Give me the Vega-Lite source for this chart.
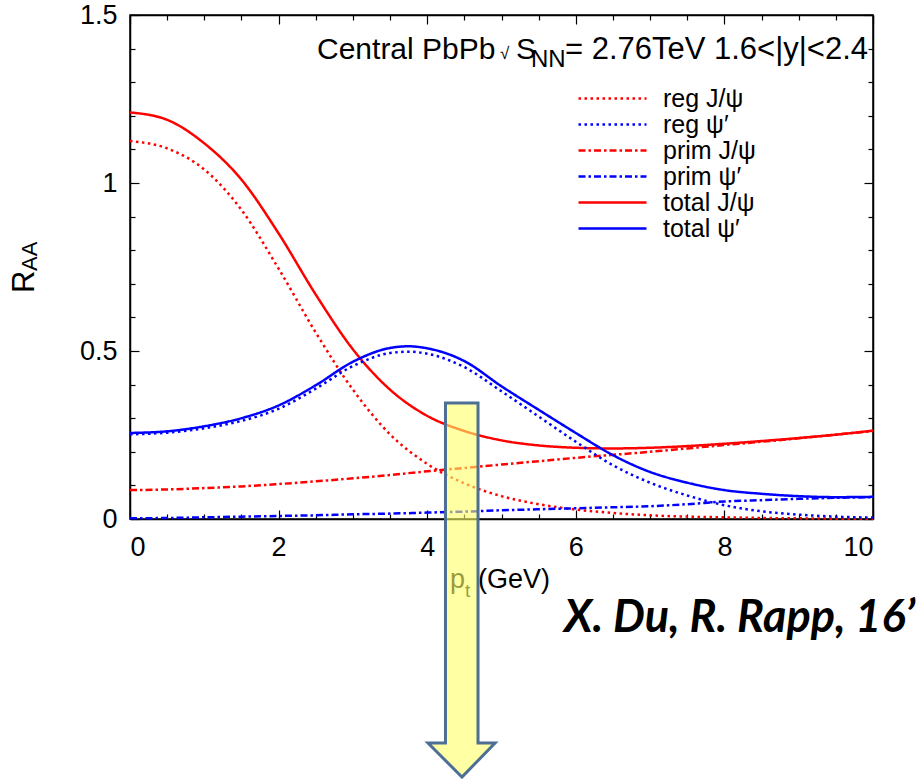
{
  "$schema": "https://vega.github.io/schema/vega-lite/v6.json",
  "width": 743,
  "height": 504,
  "autosize": {"type": "none"},
  "padding": {"left": 130, "top": 15, "right": 48, "bottom": 260},
  "background": "white",
  "config": {
    "view": {"stroke": "black", "strokeWidth": 1.5},
    "font": "Liberation Sans",
    "axis": {"grid": false, "domainColor": "black", "domainWidth": 1.5, "tickColor": "black", "tickWidth": 1.2, "labelColor": "black", "labelFont": "Liberation Sans", "labelFontSize": 27, "title": null}
  },
  "datasets": {
    "curves": [
      {"pt": 0, "r": 1.21, "series": "total J/ψ"}, {"pt": 0.5, "r": 1.188, "series": "total J/ψ"}, {"pt": 1, "r": 1.118, "series": "total J/ψ"}, {"pt": 1.5, "r": 1.01, "series": "total J/ψ"}, {"pt": 2, "r": 0.85, "series": "total J/ψ"}, {"pt": 2.5, "r": 0.668, "series": "total J/ψ"}, {"pt": 3, "r": 0.505, "series": "total J/ψ"}, {"pt": 3.5, "r": 0.385, "series": "total J/ψ"}, {"pt": 4, "r": 0.307, "series": "total J/ψ"}, {"pt": 4.5, "r": 0.262, "series": "total J/ψ"}, {"pt": 5, "r": 0.234, "series": "total J/ψ"}, {"pt": 5.5, "r": 0.219, "series": "total J/ψ"}, {"pt": 6, "r": 0.212, "series": "total J/ψ"}, {"pt": 6.5, "r": 0.21, "series": "total J/ψ"}, {"pt": 7, "r": 0.212, "series": "total J/ψ"}, {"pt": 7.5, "r": 0.217, "series": "total J/ψ"}, {"pt": 8, "r": 0.224, "series": "total J/ψ"}, {"pt": 8.5, "r": 0.232, "series": "total J/ψ"}, {"pt": 9, "r": 0.241, "series": "total J/ψ"}, {"pt": 9.5, "r": 0.251, "series": "total J/ψ"}, {"pt": 10, "r": 0.263, "series": "total J/ψ"},
      {"pt": 0, "r": 1.125, "series": "reg J/ψ"}, {"pt": 0.5, "r": 1.103, "series": "reg J/ψ"}, {"pt": 1, "r": 1.04, "series": "reg J/ψ"}, {"pt": 1.5, "r": 0.92, "series": "reg J/ψ"}, {"pt": 2, "r": 0.745, "series": "reg J/ψ"}, {"pt": 2.5, "r": 0.555, "series": "reg J/ψ"}, {"pt": 3, "r": 0.385, "series": "reg J/ψ"}, {"pt": 3.5, "r": 0.252, "series": "reg J/ψ"}, {"pt": 4, "r": 0.164, "series": "reg J/ψ"}, {"pt": 4.5, "r": 0.106, "series": "reg J/ψ"}, {"pt": 5, "r": 0.068, "series": "reg J/ψ"}, {"pt": 5.5, "r": 0.044, "series": "reg J/ψ"}, {"pt": 6, "r": 0.028, "series": "reg J/ψ"}, {"pt": 6.5, "r": 0.018, "series": "reg J/ψ"}, {"pt": 7, "r": 0.011, "series": "reg J/ψ"}, {"pt": 7.5, "r": 0.007, "series": "reg J/ψ"}, {"pt": 8, "r": 0.005, "series": "reg J/ψ"}, {"pt": 8.5, "r": 0.003, "series": "reg J/ψ"}, {"pt": 9, "r": 0.002, "series": "reg J/ψ"}, {"pt": 9.5, "r": 0.001, "series": "reg J/ψ"}, {"pt": 10, "r": 0.001, "series": "reg J/ψ"},
      {"pt": 0, "r": 0.086, "series": "prim J/ψ"}, {"pt": 0.5, "r": 0.088, "series": "prim J/ψ"}, {"pt": 1, "r": 0.092, "series": "prim J/ψ"}, {"pt": 1.5, "r": 0.097, "series": "prim J/ψ"}, {"pt": 2, "r": 0.104, "series": "prim J/ψ"}, {"pt": 2.5, "r": 0.112, "series": "prim J/ψ"}, {"pt": 3, "r": 0.121, "series": "prim J/ψ"}, {"pt": 3.5, "r": 0.131, "series": "prim J/ψ"}, {"pt": 4, "r": 0.142, "series": "prim J/ψ"}, {"pt": 4.5, "r": 0.152, "series": "prim J/ψ"}, {"pt": 5, "r": 0.162, "series": "prim J/ψ"}, {"pt": 5.5, "r": 0.172, "series": "prim J/ψ"}, {"pt": 6, "r": 0.182, "series": "prim J/ψ"}, {"pt": 6.5, "r": 0.191, "series": "prim J/ψ"}, {"pt": 7, "r": 0.2, "series": "prim J/ψ"}, {"pt": 7.5, "r": 0.21, "series": "prim J/ψ"}, {"pt": 8, "r": 0.22, "series": "prim J/ψ"}, {"pt": 8.5, "r": 0.23, "series": "prim J/ψ"}, {"pt": 9, "r": 0.24, "series": "prim J/ψ"}, {"pt": 9.5, "r": 0.251, "series": "prim J/ψ"}, {"pt": 10, "r": 0.262, "series": "prim J/ψ"},
      {"pt": 0, "r": 0.256, "series": "total ψ′"}, {"pt": 0.5, "r": 0.261, "series": "total ψ′"}, {"pt": 1, "r": 0.276, "series": "total ψ′"}, {"pt": 1.5, "r": 0.3, "series": "total ψ′"}, {"pt": 2, "r": 0.338, "series": "total ψ′"}, {"pt": 2.5, "r": 0.398, "series": "total ψ′"}, {"pt": 3, "r": 0.468, "series": "total ψ′"}, {"pt": 3.5, "r": 0.509, "series": "total ψ′"}, {"pt": 3.75, "r": 0.514, "series": "total ψ′"}, {"pt": 4, "r": 0.508, "series": "total ψ′"}, {"pt": 4.5, "r": 0.47, "series": "total ψ′"}, {"pt": 5, "r": 0.395, "series": "total ψ′"}, {"pt": 5.5, "r": 0.325, "series": "total ψ′"}, {"pt": 6, "r": 0.256, "series": "total ψ′"}, {"pt": 6.5, "r": 0.19, "series": "total ψ′"}, {"pt": 7, "r": 0.14, "series": "total ψ′"}, {"pt": 7.5, "r": 0.108, "series": "total ψ′"}, {"pt": 8, "r": 0.086, "series": "total ψ′"}, {"pt": 8.5, "r": 0.075, "series": "total ψ′"}, {"pt": 9, "r": 0.068, "series": "total ψ′"}, {"pt": 9.5, "r": 0.065, "series": "total ψ′"}, {"pt": 10, "r": 0.066, "series": "total ψ′"},
      {"pt": 0, "r": 0.252, "series": "reg ψ′"}, {"pt": 0.5, "r": 0.257, "series": "reg ψ′"}, {"pt": 1, "r": 0.27, "series": "reg ψ′"}, {"pt": 1.5, "r": 0.292, "series": "reg ψ′"}, {"pt": 2, "r": 0.328, "series": "reg ψ′"}, {"pt": 2.5, "r": 0.388, "series": "reg ψ′"}, {"pt": 3, "r": 0.455, "series": "reg ψ′"}, {"pt": 3.5, "r": 0.494, "series": "reg ψ′"}, {"pt": 3.75, "r": 0.498, "series": "reg ψ′"}, {"pt": 4, "r": 0.492, "series": "reg ψ′"}, {"pt": 4.5, "r": 0.452, "series": "reg ψ′"}, {"pt": 5, "r": 0.38, "series": "reg ψ′"}, {"pt": 5.5, "r": 0.305, "series": "reg ψ′"}, {"pt": 6, "r": 0.23, "series": "reg ψ′"}, {"pt": 6.5, "r": 0.16, "series": "reg ψ′"}, {"pt": 7, "r": 0.108, "series": "reg ψ′"}, {"pt": 7.5, "r": 0.07, "series": "reg ψ′"}, {"pt": 8, "r": 0.041, "series": "reg ψ′"}, {"pt": 8.5, "r": 0.023, "series": "reg ψ′"}, {"pt": 9, "r": 0.013, "series": "reg ψ′"}, {"pt": 9.5, "r": 0.007, "series": "reg ψ′"}, {"pt": 10, "r": 0.004, "series": "reg ψ′"},
      {"pt": 0, "r": 0.002, "series": "prim ψ′"}, {"pt": 0.5, "r": 0.003, "series": "prim ψ′"}, {"pt": 1, "r": 0.005, "series": "prim ψ′"}, {"pt": 1.5, "r": 0.007, "series": "prim ψ′"}, {"pt": 2, "r": 0.009, "series": "prim ψ′"}, {"pt": 2.5, "r": 0.011, "series": "prim ψ′"}, {"pt": 3, "r": 0.014, "series": "prim ψ′"}, {"pt": 3.5, "r": 0.016, "series": "prim ψ′"}, {"pt": 4, "r": 0.019, "series": "prim ψ′"}, {"pt": 4.5, "r": 0.022, "series": "prim ψ′"}, {"pt": 5, "r": 0.026, "series": "prim ψ′"}, {"pt": 5.5, "r": 0.029, "series": "prim ψ′"}, {"pt": 6, "r": 0.032, "series": "prim ψ′"}, {"pt": 6.5, "r": 0.035, "series": "prim ψ′"}, {"pt": 7, "r": 0.038, "series": "prim ψ′"}, {"pt": 7.5, "r": 0.044, "series": "prim ψ′"}, {"pt": 8, "r": 0.052, "series": "prim ψ′"}, {"pt": 8.5, "r": 0.056, "series": "prim ψ′"}, {"pt": 9, "r": 0.06, "series": "prim ψ′"}, {"pt": 9.5, "r": 0.063, "series": "prim ψ′"}, {"pt": 10, "r": 0.065, "series": "prim ψ′"}
    ],
    "arrow": [
      {"ax": 4.246, "ay": 0.345, "k": 1}, {"ax": 4.684, "ay": 0.345, "k": 2}, {"ax": 4.684, "ay": -0.667, "k": 3}, {"ax": 4.913, "ay": -0.667, "k": 4}, {"ax": 4.468, "ay": -0.768, "k": 5}, {"ax": 4.011, "ay": -0.667, "k": 6}, {"ax": 4.246, "ay": -0.667, "k": 7}
    ],
    "one": [{}]
  },
  "resolve": {"axis": {"x": "independent", "y": "independent"}},
  "layer": [
    {
      "data": {"name": "curves"},
      "mark": {"type": "line", "interpolate": "monotone", "strokeWidth": 2.5},
      "encoding": {
        "x": {"field": "pt", "type": "quantitative", "scale": {"domain": [0, 10], "nice": false, "zero": false},
          "axis": {"orient": "bottom", "values": [0,0.5,1,1.5,2,2.5,3,3.5,4,4.5,5,5.5,6,6.5,7,7.5,8,8.5,9,9.5,10], "format": "~g",
            "labelExpr": "datum.value % 2 === 0 ? datum.label : ''",
            "tickSize": {"condition": {"test": "datum.value % 2 === 0", "value": -9}, "value": -5}, "labelPadding": 24}},
        "y": {"field": "r", "type": "quantitative", "scale": {"domain": [0, 1.5], "nice": false},
          "axis": {"orient": "left", "values": [0,0.1,0.2,0.3,0.4,0.5,0.6,0.7,0.8,0.9,1,1.1,1.2,1.3,1.4,1.5], "format": "~g",
            "labelExpr": "abs(datum.value*2 - round(datum.value*2)) < 0.001 ? datum.label : ''",
            "tickSize": {"condition": {"test": "abs(datum.value*2 - round(datum.value*2)) < 0.001", "value": -9}, "value": -5}, "labelPadding": 22}},
        "color": {"field": "series", "type": "nominal",
          "scale": {"domain": ["reg J/ψ", "reg ψ′", "prim J/ψ", "prim ψ′", "total J/ψ", "total ψ′"], "range": ["#ff0000", "#0000ff", "#ff0000", "#0000ff", "#ff0000", "#0000ff"]},
          "legend": {"title": null, "orient": "none", "legendX": 470, "legendY": 71, "symbolType": "M-3.4,0H3.4", "symbolSize": 400, "symbolStrokeWidth": 2.5, "labelFontSize": 25, "labelFont": "Liberation Sans", "labelColor": "black", "labelOffset": 38, "rowPadding": -3}},
        "strokeDash": {"field": "series", "type": "nominal",
          "scale": {"domain": ["reg J/ψ", "reg ψ′", "prim J/ψ", "prim ψ′", "total J/ψ", "total ψ′"], "range": [[2.5, 3.5], [2.5, 3.5], [7, 3, 2.5, 3], [7, 3, 2.5, 3], [1, 0], [1, 0]]}}
      }
    },
    {
      "data": {"name": "curves"},
      "mark": {"type": "point", "opacity": 0},
      "encoding": {
        "x": {"field": "pt", "type": "quantitative",
          "axis": {"orient": "top", "values": [0,0.5,1,1.5,2,2.5,3,3.5,4,4.5,5,5.5,6,6.5,7,7.5,8,8.5,9,9.5,10], "labels": false,
            "tickSize": {"condition": {"test": "datum.value % 2 === 0", "value": -9}, "value": -5}}},
        "y": {"field": "r", "type": "quantitative",
          "axis": {"orient": "right", "values": [0,0.1,0.2,0.3,0.4,0.5,0.6,0.7,0.8,0.9,1,1.1,1.2,1.3,1.4,1.5], "labels": false,
            "tickSize": {"condition": {"test": "abs(datum.value*2 - round(datum.value*2)) < 0.001", "value": -9}, "value": -5}}}
      }
    },
    {
      "data": {"name": "one"},
      "mark": {"type": "text", "text": "Central PbPb", "align": "left", "baseline": "alphabetic", "fontSize": 30, "font": "Liberation Sans", "color": "black"},
      "encoding": {"x": {"datum": 2.517, "type": "quantitative", "axis": null}, "y": {"datum": 1.369, "type": "quantitative", "axis": null}}
    },
    {
      "data": {"name": "one"},
      "mark": {"type": "text", "text": "√", "align": "left", "baseline": "alphabetic", "fontSize": 17, "font": "Liberation Sans", "color": "black"},
      "encoding": {"x": {"datum": 4.98, "type": "quantitative", "axis": null}, "y": {"datum": 1.369, "type": "quantitative", "axis": null}}
    },
    {
      "data": {"name": "one"},
      "mark": {"type": "text", "text": "S", "align": "left", "baseline": "alphabetic", "fontSize": 30, "font": "Liberation Sans", "color": "black"},
      "encoding": {"x": {"datum": 5.195, "type": "quantitative", "axis": null}, "y": {"datum": 1.369, "type": "quantitative", "axis": null}}
    },
    {
      "data": {"name": "one"},
      "mark": {"type": "text", "text": "NN", "align": "left", "baseline": "alphabetic", "fontSize": 24, "font": "Liberation Sans", "color": "black"},
      "encoding": {"x": {"datum": 5.397, "type": "quantitative", "axis": null}, "y": {"datum": 1.345, "type": "quantitative", "axis": null}}
    },
    {
      "data": {"name": "one"},
      "mark": {"type": "text", "text": "= 2.76TeV 1.6<|y|<2.4", "align": "right", "baseline": "alphabetic", "fontSize": 31, "font": "Liberation Sans", "color": "black"},
      "encoding": {"x": {"datum": 9.933, "type": "quantitative", "axis": null}, "y": {"datum": 1.369, "type": "quantitative", "axis": null}}
    },
    {
      "data": {"name": "one"},
      "mark": {"type": "text", "text": "p", "align": "left", "baseline": "alphabetic", "fontSize": 27, "font": "Liberation Sans", "color": "black"},
      "encoding": {"x": {"datum": 4.307, "type": "quantitative", "axis": null}, "y": {"datum": -0.2054, "type": "quantitative", "axis": null}}
    },
    {
      "data": {"name": "one"},
      "mark": {"type": "text", "text": "t", "align": "left", "baseline": "alphabetic", "fontSize": 19, "font": "Liberation Sans", "color": "black"},
      "encoding": {"x": {"datum": 4.509, "type": "quantitative", "axis": null}, "y": {"datum": -0.232, "type": "quantitative", "axis": null}}
    },
    {
      "data": {"name": "one"},
      "mark": {"type": "text", "text": "(GeV)", "align": "left", "baseline": "alphabetic", "fontSize": 27, "font": "Liberation Sans", "color": "black"},
      "encoding": {"x": {"datum": 4.684, "type": "quantitative", "axis": null}, "y": {"datum": -0.2054, "type": "quantitative", "axis": null}}
    },
    {
      "data": {"name": "one"},
      "mark": {"type": "text", "text": "R", "align": "left", "baseline": "alphabetic", "angle": 270, "fontSize": 31, "font": "Liberation Sans", "color": "black"},
      "encoding": {"x": {"datum": -1.292, "type": "quantitative", "axis": null}, "y": {"datum": 0.6726, "type": "quantitative", "axis": null}}
    },
    {
      "data": {"name": "one"},
      "mark": {"type": "text", "text": "AA", "align": "left", "baseline": "alphabetic", "angle": 270, "fontSize": 22, "font": "Liberation Sans", "color": "black"},
      "encoding": {"x": {"datum": -1.252, "type": "quantitative", "axis": null}, "y": {"datum": 0.738, "type": "quantitative", "axis": null}}
    },
    {
      "data": {"name": "one"},
      "mark": {"type": "text", "text": "X. Du, R. Rapp, 16’", "align": "right", "baseline": "alphabetic", "fontSize": 45, "font": "Lato", "fontStyle": "italic", "fontWeight": "bold", "color": "black"},
      "encoding": {"x": {"datum": 10.565, "type": "quantitative", "axis": null}, "y": {"datum": -0.335, "type": "quantitative", "axis": null}}
    },
    {
      "data": {"name": "arrow"},
      "mark": {"type": "line", "interpolate": "linear-closed", "fill": "#ffff66", "fillOpacity": 0.6, "stroke": "#4e6f94", "strokeWidth": 3, "strokeJoin": "miter"},
      "encoding": {
        "x": {"field": "ax", "type": "quantitative", "axis": null},
        "y": {"field": "ay", "type": "quantitative", "axis": null},
        "order": {"field": "k", "type": "quantitative"}
      }
    }
  ]
}
